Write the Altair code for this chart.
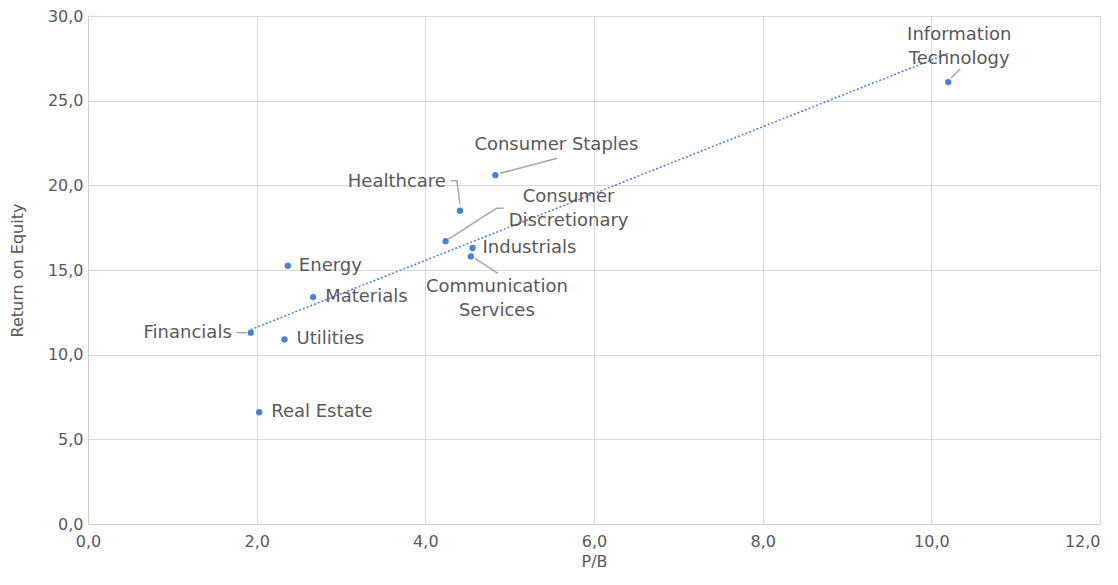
import altair as alt
import pandas as pd

# ---- data ----
sectors = ["Information Technology", "Consumer Staples", "Healthcare",
           "Consumer Discretionary", "Industrials", "Communication Services",
           "Energy", "Materials", "Financials", "Utilities", "Real Estate"]
pb = [10.20, 4.83, 4.41, 4.24, 4.56, 4.54, 2.37, 2.67, 1.93, 2.33, 2.03]
roe = [26.1, 20.6, 18.5, 16.7, 16.3, 15.8, 15.25, 13.4, 11.3, 10.9, 6.6]
label_text = ["Information\nTechnology", "Consumer Staples", "Healthcare",
              "Consumer\nDiscretionary", "Industrials", "Communication\nServices",
              "Energy", "Materials", "Financials", "Utilities", "Real Estate"]
x_ticks = [0, 2, 4, 6, 8, 10, 12]
y_ticks = [0, 5, 10, 15, 20, 25, 30]

# ---- layout (pixel offsets of labels / leader lines from each dot) ----
W, H = 1012, 508
XMAX, YMAX = 12, 30
label_dx = [11, 61, -14, 123, 10, 26, 11, 12, -19, 12, 12]
label_dy = [-47, -30, -29, -44, 0, 31, 0, 0, 0, 0, 0]
label_align = ["center", "center", "right", "center", "left", "center",
               "left", "left", "right", "left", "left"]
leaders = {
    "Information Technology": [(3, -4), (12, -13)],
    "Consumer Staples": [(5, -2), (62, -17)],
    "Healthcare": [(0, -7), (-3, -30), (-9, -30)],
    "Consumer Discretionary": [(3, -2), (51, -33), (58, -33)],
    "Communication Services": [(4, 2), (27, 17)],
    "Financials": [(-4, 0), (-14, 0)],
}

BLUE = "#4A7FDA"
GREY = "#595959"
FONT = "DejaVu Sans"

sx = XMAX / W
sy = YMAX / H

df = pd.DataFrame({"sector": sectors, "pb": pb, "roe": roe})

lab = pd.DataFrame({
    "text": label_text,
    "lx": [p + d * sx for p, d in zip(pb, label_dx)],
    "ly": [r - d * sy for r, d in zip(roe, label_dy)],
    "align": label_align,
})

rows = []
for name, pts in leaders.items():
    i = sectors.index(name)
    for k, (dx, dy) in enumerate(pts):
        rows.append({"sector": name, "k": k,
                     "x": pb[i] + dx * sx, "y": roe[i] - dy * sy})
lead = pd.DataFrame(rows)

xscale = alt.Scale(domain=[0, XMAX], nice=False, zero=True)
yscale = alt.Scale(domain=[0, YMAX], nice=False, zero=True)

fmt = "replace(format(datum.value, '.1f'), '.', ',')"

common = dict(labelExpr=fmt, grid=True, ticks=False, labelFlush=False,
              labelFont=FONT, titleFont=FONT, labelFontSize=16,
              titleFontSize=16, labelColor=GREY, titleColor=GREY,
              titleFontWeight="normal", domainColor="#d0d0d0",
              gridColor="#d9d9d9")
xaxis = alt.Axis(title="P/B", values=x_ticks, labelPadding=9,
                 titlePadding=4,
                 labelAlign={"condition": {"test": f"datum.value >= {XMAX}",
                                           "value": "right"},
                             "value": "center"},
                 **common)
yaxis = alt.Axis(title="Return on Equity", values=y_ticks, labelPadding=5,
                 titlePadding=22, **common)

base = alt.Chart(df)

points = base.mark_circle(size=40, color=BLUE, opacity=1).encode(
    x=alt.X("pb:Q", scale=xscale, axis=xaxis),
    y=alt.Y("roe:Q", scale=yscale, axis=yaxis),
)

trend = base.transform_regression("pb", "roe").mark_line(
    color=BLUE, strokeWidth=1.5, strokeDash=[2, 2]
).encode(x=alt.X("pb:Q", scale=xscale), y=alt.Y("roe:Q", scale=yscale))

leader_lines = alt.Chart(lead).mark_line(color="#a6a6a6", strokeWidth=1.5).encode(
    x=alt.X("x:Q", scale=xscale),
    y=alt.Y("y:Q", scale=yscale),
    detail="sector:N",
    order="k:Q",
)

text_layers = []
for al in ["left", "center", "right"]:
    sub = lab[lab["align"] == al]
    text_layers.append(
        alt.Chart(sub).mark_text(align=al, baseline="middle", fontSize=18,
                                 font=FONT, color=GREY, lineBreak="\n",
                                 lineHeight=24).encode(
            x=alt.X("lx:Q", scale=xscale),
            y=alt.Y("ly:Q", scale=yscale),
            text="text:N",
        )
    )

chart = alt.layer(trend, leader_lines, points, *text_layers).properties(
    width=W, height=H,
    autosize=alt.AutoSizeParams(type="none"),
    padding={"left": 80, "top": 8, "right": 10, "bottom": 46},
).configure_view(stroke=None)

chart.save("out.html", embed_options={"renderer": "svg", "actions": False})
